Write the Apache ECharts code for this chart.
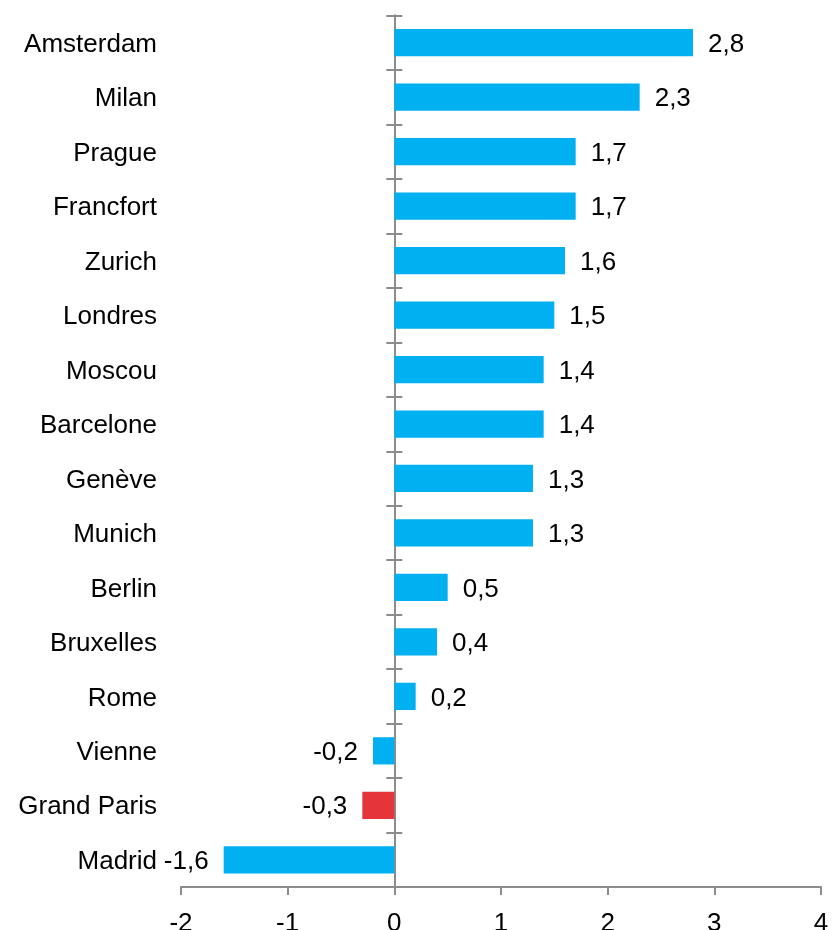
<!DOCTYPE html>
<html>
<head>
<meta charset="utf-8">
<script src="https://cdn.jsdelivr.net/npm/echarts@6/dist/echarts.min.js"></script>
<style>html,body{margin:0;padding:0;background:#fff}#c{width:840px;height:930px}</style>
</head>
<body>
<div id="c"></div>
<script>
const cities = ['Amsterdam','Milan','Prague','Francfort','Zurich','Londres','Moscou','Barcelone','Genève','Munich','Berlin','Bruxelles','Rome','Vienne','Grand Paris','Madrid'];
const values = [2.8, 2.3, 1.7, 1.7, 1.6, 1.5, 1.4, 1.4, 1.3, 1.3, 0.5, 0.4, 0.2, -0.2, -0.3, -1.6];
const highlighted = 'Grand Paris';
const xTicks = { min: -2, max: 4, interval: 1 };

const FONT = "'Liberation Sans', Arial, sans-serif";
const AXIS = '#8c8c8c';
const BLUE = '#00B0F0';
const RED = '#E5353B';

const chart = echarts.init(document.getElementById('c'), null, { renderer: 'canvas' });
const fmt = v => String(v).replace('.', ',');

const data = values.map((v, i) => ({
  value: v,
  label: { position: v >= 0 ? 'right' : 'left' }
}));

const zeroAxisBase = {
  type: 'category',
  data: cities,
  inverse: true,
  position: 'left',
  axisLine: { show: true, onZero: true, onZeroAxisIndex: 0, lineStyle: { color: AXIS, width: 2 } },
  axisLabel: { show: false },
  splitLine: { show: false }
};

chart.setOption({
  animation: false,
  grid: { left: 181, right: 19, top: 15.5, bottom: 43, containLabel: false, outerBoundsMode: 'none' },
  xAxis: {
    type: 'value',
    min: xTicks.min, max: xTicks.max, interval: xTicks.interval,
    axisLine: { show: true, lineStyle: { color: AXIS, width: 2 } },
    axisTick: { show: true, length: 8, lineStyle: { color: AXIS, width: 2 } },
    splitLine: { show: false },
    axisLabel: { color: '#000', fontSize: 26, fontFamily: FONT, margin: 24, formatter: fmt }
  },
  yAxis: [
    {
      type: 'category',
      data: cities,
      inverse: true,
      position: 'left',
      axisLine: { show: false, onZero: false },
      axisTick: { show: false },
      splitLine: { show: false },
      axisLabel: { color: '#000', fontSize: 26, fontFamily: FONT, margin: 24, verticalAlign: 'top', lineHeight: 4 }
    },
    Object.assign({}, zeroAxisBase, {
      axisTick: { show: true, inside: false, length: 8, lineStyle: { color: AXIS, width: 2 } }
    }),
    Object.assign({}, zeroAxisBase, {
      axisTick: { show: true, inside: true, length: 8, lineStyle: { color: AXIS, width: 2 } }
    })
  ],
  series: [{
    type: 'bar',
    yAxisIndex: 0,
    data: data,
    barWidth: '50%',
    itemStyle: { color: p => p.name === highlighted ? RED : BLUE },
    label: {
      show: true,
      distance: 15,
      offset: [0, 2],
      color: '#000',
      fontSize: 26,
      fontFamily: FONT,
      formatter: p => fmt(p.value)
    }
  }]
});
</script>
</body>
</html>
